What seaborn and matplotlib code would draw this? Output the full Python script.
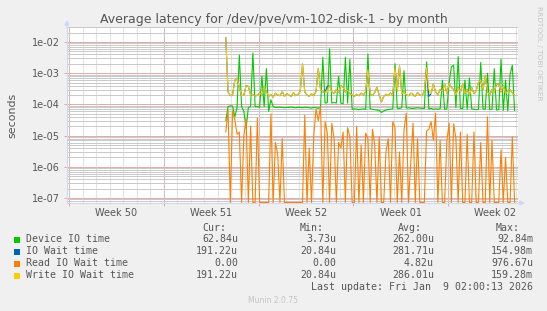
import numpy as np
import pandas as pd
import matplotlib
matplotlib.use("Agg")
import matplotlib.pyplot as plt
import matplotlib.dates as mdates
import matplotlib.transforms as mtrans
from matplotlib.patches import Rectangle
from matplotlib.ticker import FixedLocator, LogLocator, NullFormatter, FixedFormatter, NullLocator
import seaborn as sns

# ---------------- data (values in microseconds, 4-hour averages) ----------------
title = "Average latency for /dev/pve/vm-102-disk-1 - by month"
data_start = "2025-12-19 14:00"
step = "4h"

device_io = [
    30, 85, 90, 88, 40, 80, 3800, 85, 60, 17,
    80, 85, 4400, 85, 85, 80, 800, 85, 1400, 60,
    140, 85, 80, 80, 82, 80, 78, 80, 80, 82,
    80, 78, 80, 80, 78, 80, 80, 78, 76, 80,
    78, 75, 80, 3200, 110, 115, 6000, 110, 115, 110,
    800, 110, 105, 3200, 110, 2800, 70, 72, 70, 68,
    70, 72, 70, 4100, 72, 70, 68, 66, 64, 55,
    62, 66, 68, 70, 72, 2000, 75, 74, 78, 1200,
    76, 78, 75, 74, 76, 78, 76, 75, 74, 2300,
    72, 74, 70, 72, 70, 72, 600, 70, 72, 500,
    1600, 1800, 80, 3400, 74, 72, 600, 70, 700, 72,
    70, 68, 70, 2200, 72, 70, 1000, 68, 70, 1400,
    66, 68, 2800, 64, 600, 62, 900, 1800, 63,
]

io_wait = [
    14000, 250, 190, 200, 600, 700, 350, 190, 200, 400,
    380, 200, 210, 180, 200, 230, 200, 380, 250, 180,
    210, 170, 230, 200, 190, 260, 180, 220, 200, 180,
    240, 190, 210, 260, 2000, 250, 200, 180, 220, 190,
    260, 1400, 300, 250, 250, 380, 400, 250, 220, 300,
    250, 400, 350, 250, 280, 220, 200, 180, 210, 190,
    230, 200, 260, 1300, 220, 190, 240, 350, 200, 120,
    180, 210, 190, 230, 200, 1500, 260, 1700, 220, 250,
    200, 190, 230, 210, 180, 240, 200, 190, 260, 1500,
    180, 220, 450, 250, 200, 300, 260, 450, 220, 480,
    350, 300, 200, 350, 250, 450, 230, 300, 200, 350,
    220, 280, 500, 600, 300, 800, 250, 200, 300, 250,
    450, 450, 250, 400, 220, 280, 300, 230, 191,
]

read_wait = [
    13, 66, 0, 62, 32, 11, 13, 0, 10, 36,
    0, 20, 0, 0, 36, 0, 0, 0, 0, 0,
    50, 0, 6, 2.5, 0, 8, 0, 0, 0, 0,
    0, 0, 0, 0, 0, 45, 0, 4, 0, 10,
    70, 30, 85, 0, 28, 12, 0, 25, 8, 0,
    6, 4, 13, 0, 18, 9, 0, 0, 20, 0,
    5, 0, 12, 8, 0, 16, 5, 0, 9, 0,
    0, 3, 8, 0, 28, 18, 0, 3, 0, 15,
    52, 0, 1.5, 25, 0, 8, 0, 0, 0, 14,
    16, 28, 7, 52, 0, 7, 0, 0, 7, 25,
    0, 24, 8, 0, 13, 0, 0, 11, 0, 0,
    13, 0, 0, 6, 0, 0, 40, 0, 7, 0,
    0, 0, 3.5, 0, 2, 0, 0, 9, 0,
]

write_wait = [
    14000, 250, 190, 200, 600, 700, 350, 190, 200, 400,
    380, 200, 210, 180, 200, 230, 200, 380, 250, 180,
    210, 170, 230, 200, 190, 260, 180, 220, 200, 180,
    240, 190, 210, 260, 2000, 250, 200, 180, 220, 190,
    260, 1400, 300, 250, 250, 250, 400, 250, 220, 300,
    250, 400, 350, 250, 280, 220, 200, 180, 210, 190,
    230, 200, 260, 1300, 220, 190, 240, 350, 200, 120,
    180, 210, 190, 230, 200, 1500, 260, 1700, 220, 250,
    200, 190, 230, 210, 180, 240, 200, 190, 260, 1500,
    300, 220, 450, 250, 200, 300, 260, 450, 220, 480,
    350, 300, 200, 350, 250, 450, 230, 300, 200, 350,
    220, 280, 500, 600, 300, 800, 250, 200, 300, 250,
    450, 450, 250, 400, 220, 280, 300, 230, 191,
]

series_names = ["Device IO time", "IO Wait time", "Read IO Wait time", "Write IO Wait time"]
series_colors = ["#00CC00", "#0066B3", "#FF8000", "#FFCC00"]
cur_vals = ["62.84u", "191.22u", "0.00", "191.22u"]
min_vals = ["3.73u", "20.84u", "0.00", "20.84u"]
avg_vals = ["262.00u", "281.71u", "4.82u", "286.01u"]
max_vals = ["92.84m", "154.98m", "976.67u", "159.28m"]
col_headers = ["Cur:", "Min:", "Avg:", "Max:"]

ytick_values = [1e-2, 1e-3, 1e-4, 1e-5, 1e-6, 1e-7]
ytick_labels = ["1e-02", "1e-03", "1e-04", "1e-05", "1e-06", "1e-07"]
week_starts = ["2025-12-08", "2025-12-15", "2025-12-22", "2025-12-29", "2026-01-05"]
week_labels = ["Week 50", "Week 51", "Week 52", "Week 01", "Week 02"]
grid_days = ("2025-12-08", "2026-01-10")
x_left = "2025-12-07 20:27"
x_right = "2026-01-10 04:05"
y_min, y_max = 10 ** -7.16, 10 ** -1.52

last_update = "Last update: Fri Jan  9 02:00:13 2026"
version = "Munin 2.0.75"
side_text = "RRDTOOL / TOBI OETIKER"

# ---------------- figure ----------------
W, H = 547, 311
sns.set_theme(style="white")
plt.rcParams["font.family"] = ["DejaVu Sans"]
plt.rcParams["lines.scale_dashes"] = False
TXT = "#555555"
AXC = "#CFD6F8"
MINOR_C = "#CACACA"
MAJOR_C = "#E8AAAA"
dot = (0, (0.72, 0.72))

fig = plt.figure(figsize=(W / 100, H / 100), dpi=100, facecolor="#F0F0F0")
L, R, T, B = 67, 518, 27, 203
ax = fig.add_axes([L / W, 1 - B / H, (R - L) / W, (B - T) / H])
ax.set_facecolor("white")

for name, vals, col in zip(series_names, [device_io, io_wait, read_wait, write_wait], series_colors):
    t = pd.date_range(data_start, periods=len(vals), freq=step)
    v = np.asarray(vals, dtype=float) * 1e-6
    v = np.where(v <= 0, y_min * 1.04, v)
    df = pd.DataFrame({"time": t, "value": v})
    sns.lineplot(data=df, x="time", y="value", ax=ax, color=col, lw=0.8,
                 legend=False, estimator=None, sort=False, zorder=3)

ax.set_yscale("log")
ax.set_ylim(y_min, y_max)
ax.set_xlim(pd.Timestamp(x_left), pd.Timestamp(x_right))
ax.set_xlabel("")
ax.set_ylabel("")

# y ticks
ax.yaxis.set_major_locator(FixedLocator(ytick_values))
ax.yaxis.set_major_formatter(FixedFormatter(ytick_labels))
ax.yaxis.set_minor_locator(LogLocator(base=10, subs=np.arange(2, 10), numticks=50))
ax.yaxis.set_minor_formatter(NullFormatter())

# x ticks: week boundaries (major)
wk_nums = [mdates.date2num(pd.Timestamp(w)) for w in week_starts]
ax.xaxis.set_major_locator(FixedLocator(wk_nums))
ax.xaxis.set_major_formatter(FixedFormatter([""] * len(wk_nums)))
ax.xaxis.set_minor_locator(NullLocator())

# daily grid rules (vertical)
day_nums = [mdates.date2num(d) for d in pd.date_range(*grid_days, freq="D")]
day_tf = mtrans.blended_transform_factory(ax.transData, ax.transAxes)
ax.vlines(day_nums, 0, 1, transform=day_tf, colors=MINOR_C, linestyles=[dot],
          linewidth=0.8, zorder=1)

ax.grid(which="minor", axis="y", color=MINOR_C, linestyle=dot, lw=0.72, antialiased=False)
ax.grid(which="major", axis="both", color=MAJOR_C, linestyle=dot, lw=0.72, antialiased=False)
ax.set_axisbelow(True)

ax.tick_params(axis="y", which="major", length=2, width=0.7, color="#E4A4A4",
               labelsize=7, labelcolor=TXT, pad=3, left=True)
ax.tick_params(axis="x", which="major", length=2, width=0.7, color="#E4A4A4",
               bottom=True, labelsize=7)
ax.tick_params(which="minor", length=0)

for s in ["top", "right"]:
    ax.spines[s].set_visible(False)
for s in ["left", "bottom"]:
    ax.spines[s].set_color(AXC)
    ax.spines[s].set_linewidth(0.8)

# arrows on axes
ax.annotate("", xy=(0, 1 + 7 / (B - T)), xytext=(0, 1), xycoords="axes fraction",
            arrowprops=dict(arrowstyle="-|>", color=AXC, lw=0.8, mutation_scale=7,
                            shrinkA=0, shrinkB=0), annotation_clip=False)
ax.annotate("", xy=(1 + 7 / (R - L), 0), xytext=(1, 0), xycoords="axes fraction",
            arrowprops=dict(arrowstyle="-|>", color=AXC, lw=0.8, mutation_scale=7,
                            shrinkA=0, shrinkB=0), annotation_clip=False)

# week labels at mid-week
blend = mtrans.blended_transform_factory(ax.transData, ax.transAxes)
for w, lab in zip(week_starts, week_labels):
    xm = mdates.date2num(pd.Timestamp(w) + pd.Timedelta(hours=84))
    ax.text(xm, -10 / (B - T), lab, transform=blend, ha="center", va="center",
            fontsize=7, color=TXT)

# title, y label, side text
fig.text(0.5, 1 - 19.5 / H, title, ha="center", va="center", fontsize=9, color=TXT)
fig.text(12 / W, 1 - 115 / H, "seconds", rotation=90, ha="center", va="center",
         fontsize=7.9, color=TXT)
fig.text(539 / W, 1 - 53 / H, side_text, rotation=270, ha="center", va="center",
         fontsize=5.3, color="#C4C4C4")

# legend
mono = dict(family="DejaVu Sans Mono", fontsize=7.1, color=TXT, va="center")
hdr_x = [226, 324, 422, 520]
val_x = [238, 336, 434, 533]
for hx, h in zip(hdr_x, col_headers):
    fig.text(hx / W, 1 - 228 / H, h, ha="right", **mono)
rows_y = [239.5, 251.5, 263.5, 275.5]
for ry, name, col, c, mn, av, mx in zip(rows_y, series_names, series_colors,
                                        cur_vals, min_vals, avg_vals, max_vals):
    fig.add_artist(Rectangle((14 / W, 1 - (ry + 3) / H), 6 / W, 6 / H,
                             transform=fig.transFigure, facecolor=col, edgecolor="none"))
    fig.text(26 / W, 1 - ry / H, name, ha="left", **mono)
    for vx, s in zip(val_x, [c, mn, av, mx]):
        fig.text(vx / W, 1 - ry / H, s, ha="right", **mono)
fig.text(533 / W, 1 - 287.5 / H, last_update, ha="right", **mono)
fig.text(273 / W, 1 - 300.5 / H, version, ha="center", va="center",
         fontsize=5.5, color="#C4C4C4")

fig.savefig("out.png", dpi=100, facecolor=fig.get_facecolor())
